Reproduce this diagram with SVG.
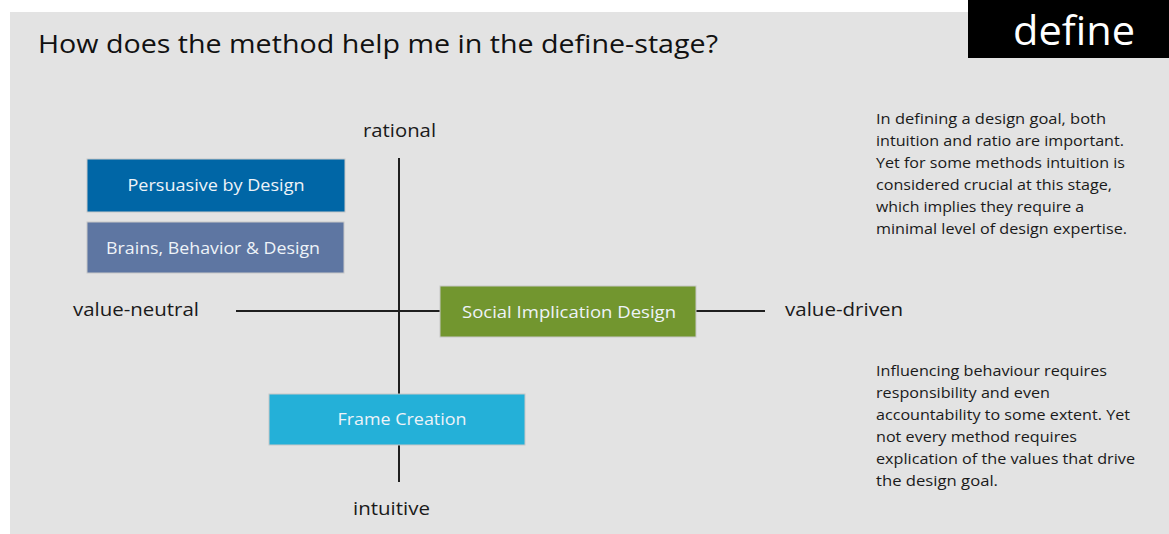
<svg xmlns="http://www.w3.org/2000/svg" width="1169" height="534" viewBox="0 0 1169 534">
<style>
text{font-family:"Open Sans","Noto Sans","Liberation Sans",sans-serif;}
.axis{font-size:19px;fill:#1a1a1a;}
.lbl{font-size:17px;fill:#eef3f8;text-anchor:middle;}
.note{font-size:15px;fill:#1a1a1a;}
.box{stroke:#c8c8c8;stroke-width:1;}
.line{stroke:#1f1f1f;stroke-width:2;fill:none;}
</style>
<rect x="0" y="0" width="1169" height="534" fill="#ffffff"/>
<rect x="10" y="12" width="1159" height="522" fill="#e3e3e3"/>
<g id="header">
<text x="38" y="53" font-size="26" fill="#111" textLength="680" lengthAdjust="spacingAndGlyphs">How does the method help me in the define-stage?</text>
<rect x="968" y="0" width="201" height="58" fill="#000"/>
<text x="1013" y="45" font-size="40" fill="#fff" textLength="122" lengthAdjust="spacingAndGlyphs">define</text>
</g>
<g id="connectors">
<line class="line" x1="399" y1="158" x2="399" y2="482"/>
<line class="line" x1="236" y1="311" x2="765" y2="311"/>
</g>
<g id="axis-labels">
<text class="axis" x="363" y="137" textLength="73" lengthAdjust="spacingAndGlyphs">rational</text>
<text class="axis" x="73" y="316" textLength="126" lengthAdjust="spacingAndGlyphs">value-neutral</text>
<text class="axis" x="785" y="316" textLength="118" lengthAdjust="spacingAndGlyphs">value-driven</text>
<text class="axis" x="353" y="515" textLength="77" lengthAdjust="spacingAndGlyphs">intuitive</text>
</g>
<g id="persuasive">
<rect class="box" x="87" y="159" width="258" height="53" fill="#0066a6"/>
<text class="lbl" x="216" y="191" textLength="177" lengthAdjust="spacingAndGlyphs">Persuasive by Design</text>
</g>
<g id="brains">
<rect class="box" x="87" y="222" width="257" height="51" fill="#5e76a2"/>
<text class="lbl" x="213" y="254" textLength="214" lengthAdjust="spacingAndGlyphs">Brains, Behavior &amp; Design</text>
</g>
<g id="social">
<rect class="box" x="440" y="286" width="256" height="51" fill="#72962f"/>
<text class="lbl" x="569" y="318" textLength="214" lengthAdjust="spacingAndGlyphs">Social Implication Design</text>
</g>
<g id="frame">
<rect class="box" x="269" y="394" width="256" height="51" fill="#24b0d8"/>
<text class="lbl" x="402" y="425" textLength="129" lengthAdjust="spacingAndGlyphs">Frame Creation</text>
</g>
<g id="note1" class="note">
<text class="note" x="876" y="124" textLength="230" lengthAdjust="spacingAndGlyphs">In defining a design goal, both</text>
<text class="note" x="876" y="146" textLength="248" lengthAdjust="spacingAndGlyphs">intuition and ratio are important.</text>
<text class="note" x="876" y="168" textLength="249" lengthAdjust="spacingAndGlyphs">Yet for some methods intuition is</text>
<text class="note" x="876" y="190" textLength="236" lengthAdjust="spacingAndGlyphs">considered crucial at this stage,</text>
<text class="note" x="876" y="212" textLength="208" lengthAdjust="spacingAndGlyphs">which implies they require a</text>
<text class="note" x="876" y="234" textLength="251" lengthAdjust="spacingAndGlyphs">minimal level of design expertise.</text>
</g>
<g id="note2">
<text class="note" x="876" y="376" textLength="231" lengthAdjust="spacingAndGlyphs">Influencing behaviour requires</text>
<text class="note" x="876" y="398" textLength="174" lengthAdjust="spacingAndGlyphs">responsibility and even</text>
<text class="note" x="876" y="420" textLength="254" lengthAdjust="spacingAndGlyphs">accountability to some extent. Yet</text>
<text class="note" x="876" y="442" textLength="201" lengthAdjust="spacingAndGlyphs">not every method requires</text>
<text class="note" x="876" y="464" textLength="259" lengthAdjust="spacingAndGlyphs">explication of the values that drive</text>
<text class="note" x="876" y="486" textLength="122" lengthAdjust="spacingAndGlyphs">the design goal.</text>
</g>
</svg>
